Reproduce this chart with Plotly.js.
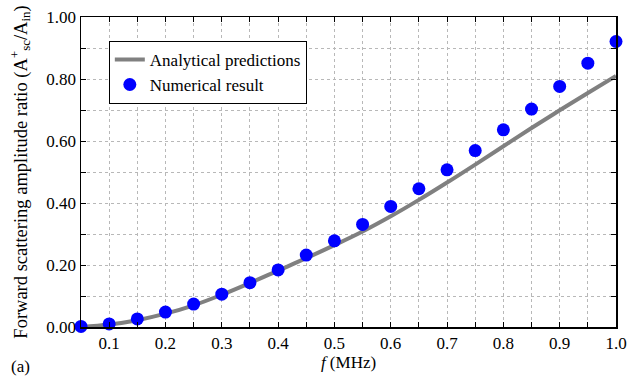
<!DOCTYPE html>
<html>
<head>
<meta charset="utf-8">
<script src="https://cdn.plot.ly/plotly-3.0.1.min.js"></script>
<style>html,body{margin:0;padding:0;background:#fff;}#chart{width:641px;height:378px;}</style>
</head>
<body>
<div id="chart"></div>
<script>
// Frequency (MHz)
const freq = [0.05,0.10,0.15,0.20,0.25,0.30,0.35,0.40,0.45,0.50,0.55,0.60,0.65,0.70,0.75,0.80,0.85,0.90,0.95,1.00];
// Analytical predictions
const analytical = [0.000,0.008,0.022,0.043,0.070,0.104,0.142,0.182,0.222,0.264,0.308,0.357,0.410,0.466,0.524,0.583,0.642,0.699,0.755,0.810];
// Numerical result
const numerical = [0.002,0.010,0.026,0.048,0.074,0.106,0.143,0.184,0.232,0.278,0.331,0.389,0.446,0.507,0.569,0.636,0.703,0.776,0.851,0.921];

const xTickVals = [0.05,0.10,0.15,0.20,0.25,0.30,0.35,0.40,0.45,0.50,0.55,0.60,0.65,0.70,0.75,0.80,0.85,0.90,0.95,1.00];
const xTickText = ['','0.1','','0.2','','0.3','','0.4','','0.5','','0.6','','0.7','','0.8','','0.9','','1.0'];
const yTickVals = [0,0.1,0.2,0.3,0.4,0.5,0.6,0.7,0.8,0.9,1.0];
const yTickText = ['0.00','','0.20','','0.40','','0.60','','0.80','','1.00'];

const font = {family:'Liberation Serif, Times New Roman, serif', size:17, color:'#000'};
const titleFont = {family:'Liberation Serif, Times New Roman, serif', size:18.5, color:'#000'};

const traces = [
  {x:freq, y:analytical, type:'scatter', mode:'lines', name:'Analytical predictions',
   line:{color:'#808080', width:4, shape:'spline'}},
  {x:freq, y:numerical, type:'scatter', mode:'markers', name:'Numerical result',
   marker:{color:'#0000ff', size:13}, cliponaxis:false}
];

const axisCommon = {
  showline:true, linecolor:'#000', linewidth:1.5, mirror:'ticks',
  ticks:'inside', ticklen:5, tickcolor:'#000', tickwidth:1,
  showgrid:true, gridcolor:'#b8b8b8', griddash:'dot', gridwidth:1,
  zeroline:false, tickfont:font
};

const layout = {
  width:641, height:378,
  margin:{l:81, r:25, t:17, b:51},
  paper_bgcolor:'#fff', plot_bgcolor:'#fff',
  font:font,
  showlegend:true,
  legend:{x:0.052, y:0.923, xanchor:'left', yanchor:'top', bgcolor:'#fff',
          bordercolor:'#000', borderwidth:1, font:font, tracegroupgap:0},
  xaxis:Object.assign({}, axisCommon, {
    range:[0.05,1.0], tickmode:'array', tickvals:xTickVals, ticktext:xTickText,
    title:{text:'<i>f</i> (MHz)', font:font, standoff:2}
  }),
  yaxis:Object.assign({}, axisCommon, {
    range:[0,1.0], tickmode:'array', tickvals:yTickVals, ticktext:yTickText,
    title:{text:'Forward scattering amplitude ratio (A<sup>+</sup><sub>sc</sub>/A<sub>in</sub>)', font:titleFont, standoff:14}
  }),
  annotations:[{text:'(a)', xref:'paper', yref:'paper', x:-0.135, y:-0.126,
                xanchor:'left', yanchor:'middle', showarrow:false, font:font}]
};

Plotly.newPlot('chart', traces, layout, {displayModeBar:false, staticPlot:true});
</script>
</body>
</html>
